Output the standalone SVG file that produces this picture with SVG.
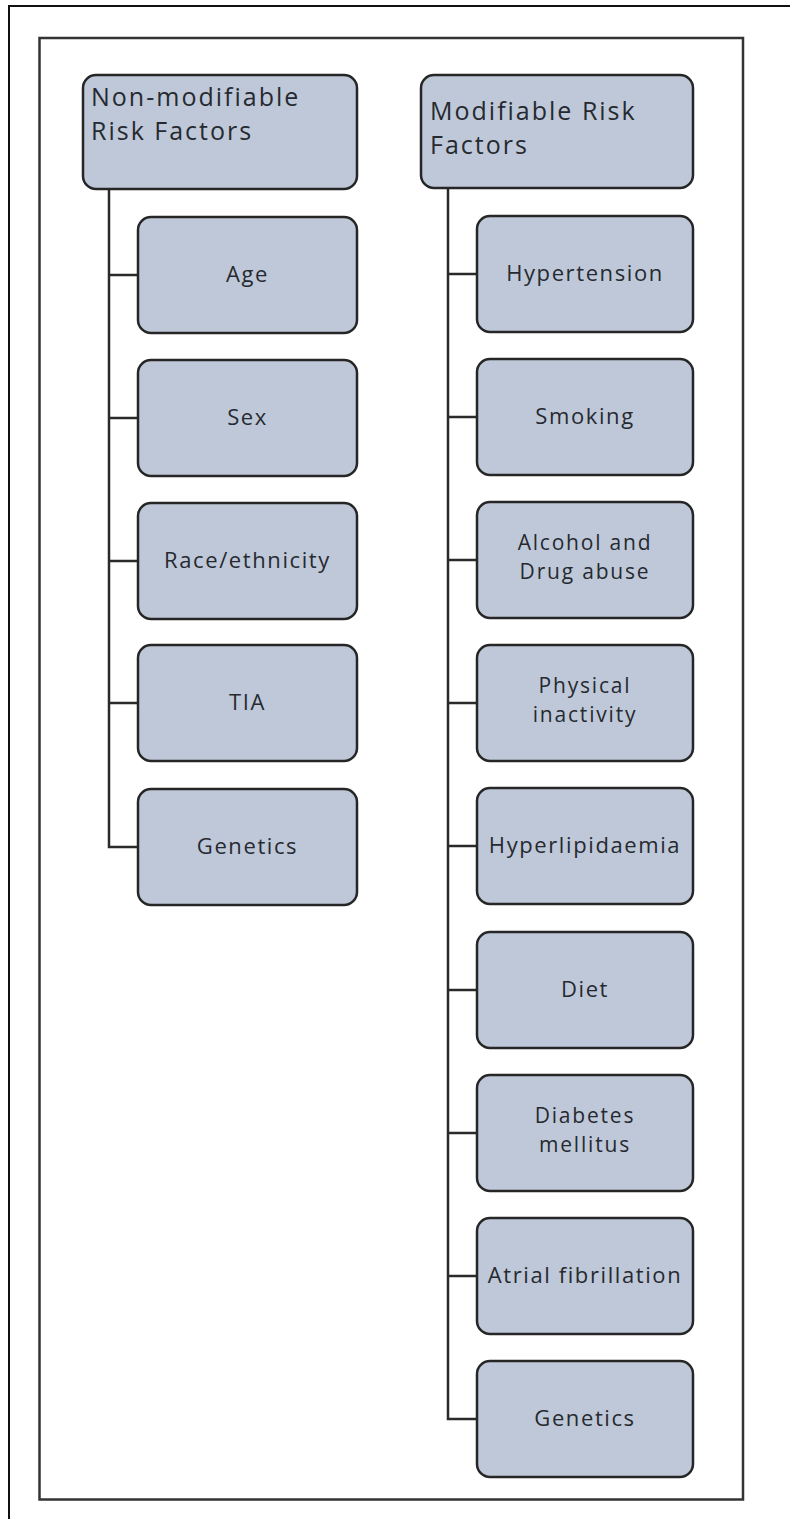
<svg xmlns="http://www.w3.org/2000/svg" width="790" height="1519" viewBox="0 0 790 1519">
<style>
.box{fill:#bfc8d8;stroke:#262626;stroke-width:2.5}
.conn{fill:none;stroke:#2a2a2a;stroke-width:2.5}
.t{font-family:"Open Sans","Liberation Sans",sans-serif;font-size:22px;font-weight:500;fill:#262a30;text-anchor:middle;letter-spacing:1.6px}
.t2{font-size:21px;letter-spacing:1.8px}
.h{font-family:"Open Sans","Liberation Sans",sans-serif;font-size:25px;font-weight:500;fill:#262a30;letter-spacing:2px}
</style>
<rect width="790" height="1519" fill="#ffffff"/>
<path d="M9,1519 V6 H790" fill="none" stroke="#111" stroke-width="2"/>
<rect x="39.5" y="38" width="703.5" height="1461.5" fill="none" stroke="#333" stroke-width="2.5"/>
<g id="connectors">
<path class="conn" d="M109,189 V847 H138 M109,275 H138 M109,418 H138 M109,561 H138 M109,703 H138"/>
<path class="conn" d="M448,188 V1419 H477 M448,274 H477 M448,417 H477 M448,560 H477 M448,703 H477 M448,846 H477 M448,990 H477 M448,1133 H477 M448,1276 H477"/>
</g>
<g id="nonmod"><rect class="box" x="83" y="75" width="274" height="114" rx="13"/><text class="h" x="91" y="106">Non-modifiable</text><text class="h" x="91" y="140">Risk Factors</text></g>
<g id="mod"><rect class="box" x="421" y="75" width="272" height="113" rx="13"/><text class="h" x="430" y="120">Modifiable Risk</text><text class="h" x="430" y="154">Factors</text></g>
<g id="age"><rect class="box" x="138" y="217" width="219" height="116" rx="13"/><text class="t" x="247.5" y="282">Age</text></g>
<g id="sex"><rect class="box" x="138" y="360" width="219" height="116" rx="13"/><text class="t" x="247.5" y="425">Sex</text></g>
<g id="race"><rect class="box" x="138" y="503" width="219" height="116" rx="13"/><text class="t" x="247.5" y="568">Race/ethnicity</text></g>
<g id="tia"><rect class="box" x="138" y="645" width="219" height="116" rx="13"/><text class="t" x="247.5" y="710">TIA</text></g>
<g id="genetics1"><rect class="box" x="138" y="789" width="219" height="116" rx="13"/><text class="t" x="247.5" y="854">Genetics</text></g>
<g id="hypertension"><rect class="box" x="477" y="216" width="216" height="116" rx="13"/><text class="t" x="585" y="281">Hypertension</text></g>
<g id="smoking"><rect class="box" x="477" y="359" width="216" height="116" rx="13"/><text class="t" x="585" y="424">Smoking</text></g>
<g id="alcohol"><rect class="box" x="477" y="502" width="216" height="116" rx="13"/><text class="t t2" x="585" y="550">Alcohol and</text><text class="t t2" x="585" y="579">Drug abuse</text></g>
<g id="physical"><rect class="box" x="477" y="645" width="216" height="116" rx="13"/><text class="t t2" x="585" y="693">Physical</text><text class="t t2" x="585" y="722">inactivity</text></g>
<g id="hyperlipidaemia"><rect class="box" x="477" y="788" width="216" height="116" rx="13"/><text class="t" x="585" y="853">Hyperlipidaemia</text></g>
<g id="diet"><rect class="box" x="477" y="932" width="216" height="116" rx="13"/><text class="t" x="585" y="997">Diet</text></g>
<g id="diabetes"><rect class="box" x="477" y="1075" width="216" height="116" rx="13"/><text class="t t2" x="585" y="1123">Diabetes</text><text class="t t2" x="585" y="1152">mellitus</text></g>
<g id="atrial"><rect class="box" x="477" y="1218" width="216" height="116" rx="13"/><text class="t" x="585" y="1283">Atrial fibrillation</text></g>
<g id="genetics2"><rect class="box" x="477" y="1361" width="216" height="116" rx="13"/><text class="t" x="585" y="1426">Genetics</text></g>
</svg>
